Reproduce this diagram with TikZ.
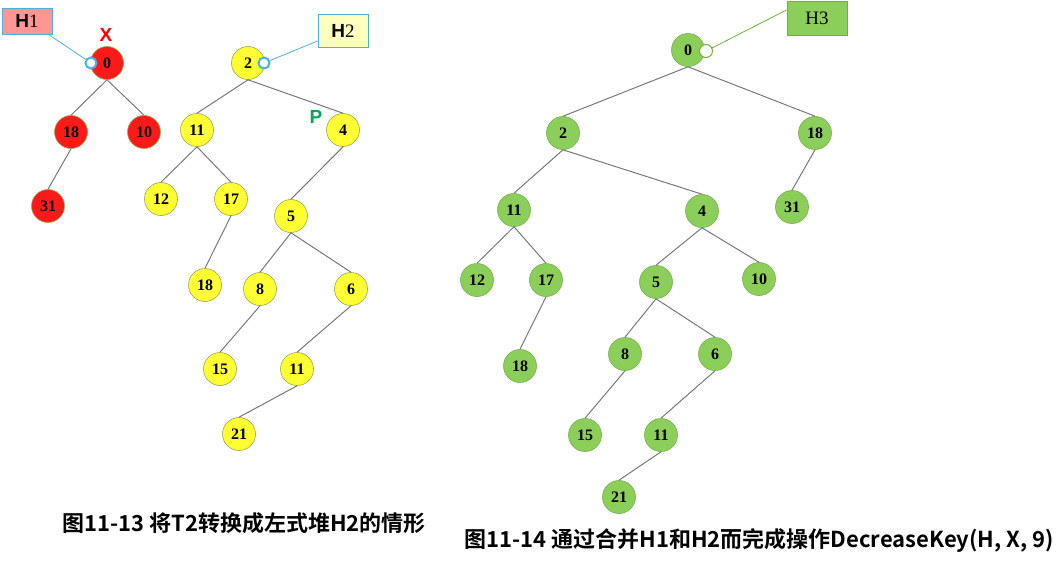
\documentclass[tikz,border=0pt]{standalone}
\usepackage{fontspec}
\setmainfont{Liberation Serif}
\setsansfont{Liberation Sans}
\newfontfamily\cjk{Noto Sans CJK SC}[BoldFont={* Bold}]
\definecolor{redfill}{RGB}{255,26,26}
\definecolor{yelfill}{RGB}{255,255,51}
\definecolor{grnfill}{RGB}{140,206,90}
\definecolor{nodeline}{RGB}{150,170,80}
\definecolor{edgegray}{RGB}{120,120,120}
\definecolor{ptrblue}{RGB}{75,175,225}
\definecolor{hone}{RGB}{255,150,150}
\definecolor{htwo}{RGB}{255,255,190}
\definecolor{hthreeline}{RGB}{120,170,60}
\definecolor{pgreen}{RGB}{0,168,90}
\tikzset{
  hnode/.style={circle, minimum size=33pt, inner sep=0pt, draw=nodeline, line width=0.6pt, font=\fontsize{16}{16}\selectfont\bfseries},
  rednode/.style={hnode, fill=redfill},
  yelnode/.style={hnode, fill=yelfill},
  grnnode/.style={hnode, fill=grnfill, draw=grnfill!85!black},
  edge/.style={draw=edgegray, line width=1pt},
  ptr/.style={circle, minimum size=11pt, inner sep=0pt, fill=white, draw=ptrblue, line width=2pt},
  ptrg/.style={circle, minimum size=13pt, inner sep=0pt, fill=white, draw=hthreeline, line width=1pt},
  hbox/.style={rectangle, inner sep=0pt, draw=ptrblue, line width=1pt, font=\fontsize{19}{19}\selectfont},
  caption/.style={font=\cjk\bfseries\fontsize{22}{22}\selectfont, inner sep=0pt}
}
\begin{document}
\begin{tikzpicture}[x=1pt,y=-1pt]
\useasboundingbox (0,0) rectangle (1064,560);
% ---------- left: H1 ----------
\node[rednode] (a0) at (107,63) {0};
\node[rednode] (a18) at (71,132) {18};
\node[rednode] (a10) at (144,132) {10};
\node[rednode] (a31) at (48,206) {31};
\draw[edge] (a0.south) -- (a18.north);
\draw[edge] (a0.south) -- (a10.north);
\draw[edge] (a18.south) -- (a31.north);
\node[hbox, fill=hone, minimum width=50pt, minimum height=26pt] (h1) at (27,21) {\sffamily\bfseries H\rmfamily\mdseries 1};
\node[ptr] (p1) at (91,63) {};
\draw[ptrblue, line width=0.8pt] ([xshift=-4pt]h1.south east) -- (p1);
\node[text=red, font=\sffamily\bfseries\fontsize{19}{19}\selectfont] (xl) at (106,35) {X};
% ---------- left: H2 ----------
\node[yelnode] (b2) at (248,63) {2};
\node[yelnode] (b11) at (197,130) {11};
\node[yelnode] (b4) at (343,130) {4};
\node[yelnode] (b12) at (161,199) {12};
\node[yelnode] (b17) at (231,199) {17};
\node[yelnode] (b5) at (291,216) {5};
\node[yelnode] (b18) at (205,285) {18};
\node[yelnode] (b8) at (260,289) {8};
\node[yelnode] (b6) at (351,289) {6};
\node[yelnode] (b15) at (220,369) {15};
\node[yelnode] (b11b) at (297,369) {11};
\node[yelnode] (b21) at (239,434) {21};
\draw[edge] (b2.south) -- (b11.north);
\draw[edge] (b2.south) -- (b4.north);
\draw[edge] (b11.south) -- (b12.north);
\draw[edge] (b11.south) -- (b17.north);
\draw[edge] (b17.south) -- (b18.north);
\draw[edge] (b4.south) -- (b5.north);
\draw[edge] (b5.south) -- (b8.north);
\draw[edge] (b5.south) -- (b6.north);
\draw[edge] (b8.south) -- (b15.north);
\draw[edge] (b6.south) -- (b11b.north);
\draw[edge] (b11b.south) -- (b21.north);
\node[hbox, fill=htwo, minimum width=50pt, minimum height=33pt] (h2) at (343,31) {\sffamily\bfseries H\rmfamily\mdseries 2};
\node[ptr] (p2) at (264,63) {};
\draw[ptrblue, line width=0.8pt] ([yshift=-10pt]h2.west) -- (p2);
\node[text=pgreen, font=\sffamily\bfseries\fontsize{19}{19}\selectfont] (pl) at (316,117) {P};
% ---------- right: H3 ----------
\node[grnnode] (c0) at (688,50) {0};
\node[grnnode] (c2) at (563,133) {2};
\node[grnnode] (c18) at (815,133) {18};
\node[grnnode] (c11) at (514,210) {11};
\node[grnnode] (c4) at (702,211) {4};
\node[grnnode] (c31) at (792,207) {31};
\node[grnnode] (c12) at (477,280) {12};
\node[grnnode] (c17) at (546,280) {17};
\node[grnnode] (c5) at (656,282) {5};
\node[grnnode] (c10) at (759,279) {10};
\node[grnnode] (c18b) at (520,366) {18};
\node[grnnode] (c8) at (625,354) {8};
\node[grnnode] (c6) at (715,354) {6};
\node[grnnode] (c15) at (585,435) {15};
\node[grnnode] (c11b) at (661,435) {11};
\node[grnnode] (c21) at (619,497) {21};
\draw[edge] (c0.south) -- (c2.north);
\draw[edge] (c0.south) -- (c18.north);
\draw[edge] (c2.south) -- (c11.north);
\draw[edge] (c2.south) -- (c4.north);
\draw[edge] (c18.south) -- (c31.north);
\draw[edge] (c11.south) -- (c12.north);
\draw[edge] (c11.south) -- (c17.north);
\draw[edge] (c17.south) -- (c18b.north);
\draw[edge] (c4.south) -- (c5.north);
\draw[edge] (c4.south) -- (c10.north);
\draw[edge] (c5.south) -- (c8.north);
\draw[edge] (c5.south) -- (c6.north);
\draw[edge] (c8.south) -- (c15.north);
\draw[edge] (c6.south) -- (c11b.north);
\draw[edge] (c11b.south) -- (c21.north);
\node[rectangle, inner sep=0pt, fill=grnfill, draw=hthreeline, line width=1pt, minimum width=60pt, minimum height=34pt, font=\fontsize{19}{19}\selectfont] (h3) at (817,18) {H3};
\node[ptrg] (p3) at (706,51) {};
\draw[hthreeline, line width=0.8pt] ([yshift=8pt]h3.west) -- (p3);
% ---------- captions ----------
\node[caption] (cap1) at (244,523) {图11-13 将T2转换成左式堆H2的情形};
\node[caption] (cap2) at (759,540) {图11-14 通过合并H1和H2而完成操作DecreaseKey(H, X, 9)};
\end{tikzpicture}
\end{document}
